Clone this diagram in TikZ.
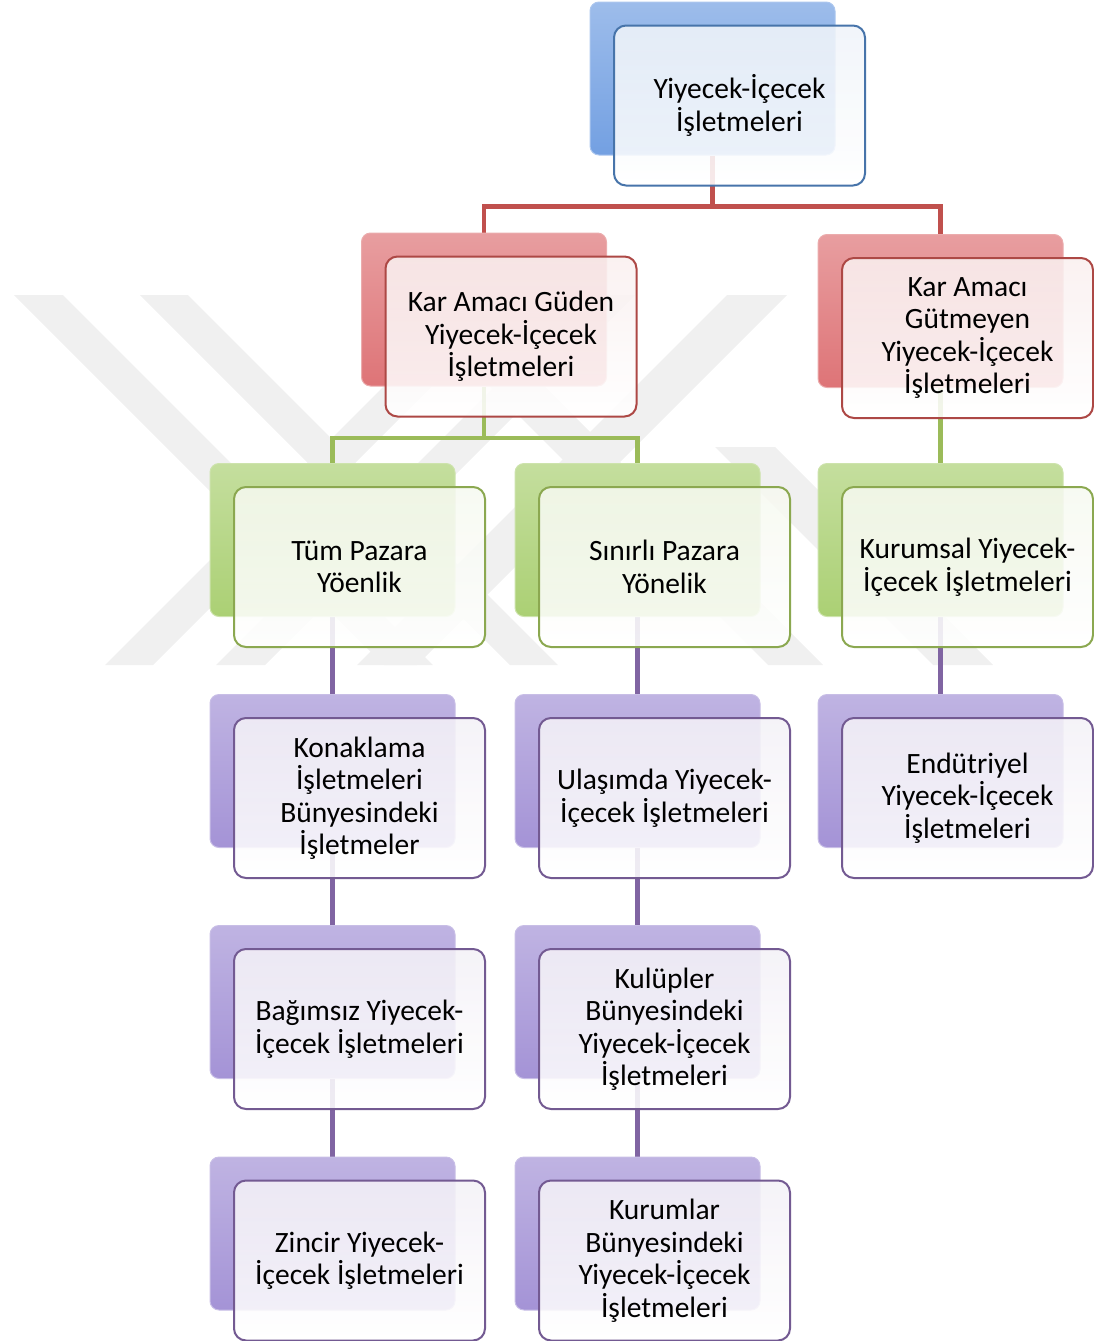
\documentclass[tikz,border=0pt]{standalone}
\usepackage{fontspec}
\setmainfont{Carlito}
\usetikzlibrary{positioning}
\pgfdeclarelayer{background}
\pgfsetlayers{background,main}
\definecolor{ofblue}{HTML}{4F81BD}
\definecolor{ofred}{HTML}{C0504D}
\definecolor{ofgreen}{HTML}{9BBB59}
\definecolor{ofpurple}{HTML}{8064A2}
\definecolor{bkblue}{HTML}{73A0E2}
\definecolor{bkred}{HTML}{DE7477}
\definecolor{bkgreen}{HTML}{ABD074}
\definecolor{bkpurple}{HTML}{A493D6}
\tikzset{
    backbox/.style={rounded corners=9pt, minimum width=245pt, minimum height=153pt, inner sep=0pt,
        draw=#1!60!white, line width=1pt, top color=#1!70!white, bottom color=#1},
    frontbox/.style={rounded corners=12pt, minimum width=251pt, minimum height=160pt, inner sep=0pt,
        draw=#1!90!black, line width=2pt, top color=#1!9!white, bottom color=white,
        fill opacity=0.88, text opacity=1, align=center,
        font=\fontsize{29.5pt}{32.5pt}\selectfont},
    conn/.style={draw=#1, line width=4.5pt},
    wmark/.style={fill=black!6}
}
% back panel + front card
\newcommand{\orgbox}[5]{%
    \node[backbox=bk#4] (#1b) at (#2,#3) {};
    \node[frontbox=of#4] (#1) at ([shift={(27pt,-27pt)}]#1b.center) {#5};
}
\begin{document}
\begin{tikzpicture}[x=1pt, y=-1pt]
    \useasboundingbox (0,0) rectangle (1094,1341);
    \orgbox{top}{712.5}{78.5}{blue}{Yiyecek-İçecek\\İşletmeleri}
    \orgbox{guden}{484}{309.5}{red}{Kar Amacı Güden\\Yiyecek-İçecek\\İşletmeleri}
    \orgbox{gutmeyen}{940.5}{311}{red}{Kar Amacı\\Gütmeyen\\Yiyecek-İçecek\\İşletmeleri}
    \orgbox{tum}{332.5}{540}{green}{Tüm Pazara\\Yöenlik}
    \orgbox{sinirli}{637.5}{540}{green}{Sınırlı Pazara\\Yönelik}
    \orgbox{kurumsal}{940.5}{540}{green}{Kurumsal Yiyecek-\\İçecek İşletmeleri}
    \orgbox{konaklama}{332.5}{771}{purple}{Konaklama\\İşletmeleri\\Bünyesindeki\\İşletmeler}
    \orgbox{ulasim}{637.5}{771}{purple}{Ulaşımda Yiyecek-\\İçecek İşletmeleri}
    \orgbox{endustri}{940.5}{771}{purple}{Endütriyel\\Yiyecek-İçecek\\İşletmeleri}
    \orgbox{bagimsiz}{332.5}{1002}{purple}{Bağımsız Yiyecek-\\İçecek İşletmeleri}
    \orgbox{kulup}{637.5}{1002}{purple}{Kulüpler\\Bünyesindeki\\Yiyecek-İçecek\\İşletmeleri}
    \orgbox{zincir}{332.5}{1233.5}{purple}{Zincir Yiyecek-\\İçecek İşletmeleri}
    \orgbox{kurumlar}{637.5}{1233.5}{purple}{Kurumlar\\Bünyesindeki\\Yiyecek-İçecek\\İşletmeleri}

    \begin{pgfonlayer}{background}
        % faint watermark
        \fill[wmark] (14,295) -- (63,295) -- (433,665) -- (384,665) -- cycle;
        \fill[wmark] (140,295) -- (188,295) -- (558,665) -- (510,665) -- cycle;
        \fill[wmark] (398,295) -- (453,295) -- (823,665) -- (768,665) -- cycle;
        \fill[wmark] (105,665) -- (153,665) -- (523,295) -- (475,295) -- cycle;
        \fill[wmark] (216,665) -- (265,665) -- (635,295) -- (586,295) -- cycle;
        \fill[wmark] (727,295) -- (787,295) -- (417,665) -- (357,665) -- cycle;
        \fill[wmark] (715,447) -- (775,447) -- (993,665) -- (933,665) -- cycle;

        \draw[conn=ofred] (topb.south) |- ([yshift=26pt]gudenb.north) -- (gudenb.north);
        \draw[conn=ofred] (topb.south) |- ([yshift=26pt]gudenb.north -| gutmeyenb.north) -- (gutmeyenb.north);
        \draw[conn=ofgreen] (gudenb.south) |- ([yshift=25pt]tumb.north) -- (tumb.north);
        \draw[conn=ofgreen] (gudenb.south) |- ([yshift=25pt]sinirlib.north) -- (sinirlib.north);
        \draw[conn=ofgreen] (gutmeyenb.south) -- (kurumsalb.north);
        \draw[conn=ofpurple] (tumb.south) -- (konaklamab.north);
        \draw[conn=ofpurple] (konaklamab.south) -- (bagimsizb.north);
        \draw[conn=ofpurple] (bagimsizb.south) -- (zincirb.north);
        \draw[conn=ofpurple] (sinirlib.south) -- (ulasimb.north);
        \draw[conn=ofpurple] (ulasimb.south) -- (kulupb.north);
        \draw[conn=ofpurple] (kulupb.south) -- (kurumlarb.north);
        \draw[conn=ofpurple] (kurumsalb.south) -- (endustrib.north);
    \end{pgfonlayer}
\end{tikzpicture}
\end{document}
